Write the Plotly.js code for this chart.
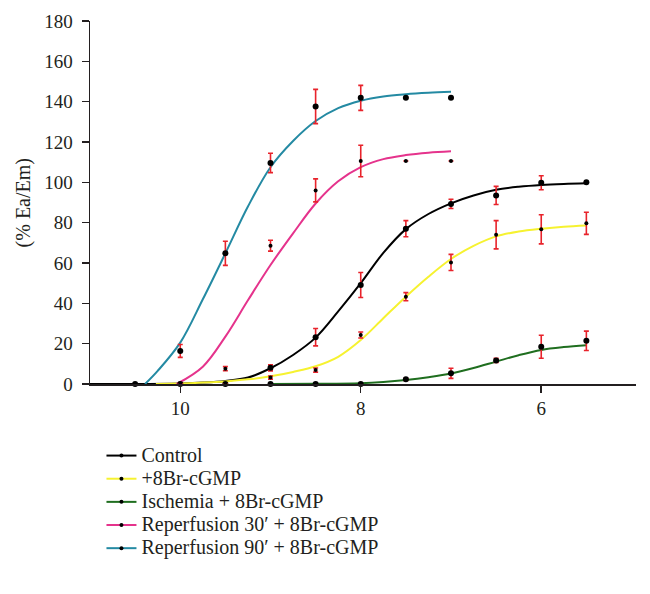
<!DOCTYPE html>
<html>
<head>
<meta charset="utf-8">
<script src="https://cdn.plot.ly/plotly-3.0.1.min.js"></script>
<style>
html,body{margin:0;padding:0;background:#fff;}
#chart{width:650px;height:594px;}
.legendtext{font-size:20px !important;}
#chart .legend .scrollbox{clip-path:none !important;}
</style>
</head>
<body>
<div id="chart"></div>
<script>
// ---- Data ----
var seriesNames = ["Control", "+8Br-cGMP", "Ischemia + 8Br-cGMP", "Reperfusion 30\u2032 + 8Br-cGMP", "Reperfusion 90\u2032 + 8Br-cGMP"];

// Measured points (x = -log concentration)
var controlX = [10, 9.5, 9, 8.5, 8, 7.5, 7, 6.5, 6, 5.5];
var controlY = [0, 0, 8, 23.2, 49.1, 77, 89.3, 93.5, 99.8, 100];
var controlErr = [0, 0, 1.5, 4.3, 6.2, 4, 2.3, 4.5, 3.5, 0];

var cgmpX = [10, 9.5, 9, 8.5, 8, 7.5, 7, 6.5, 6, 5.5];
var cgmpY = [0, 0, 3.2, 6.9, 24.3, 43.3, 60.3, 74, 76.7, 79.7];
var cgmpErr = [0, 0, 0.8, 1, 1.5, 2, 4, 7, 7.2, 5.5];

var ischX = [9, 8.5, 8, 7.5, 7, 6.5, 6, 5.5];
var ischY = [0, 0, 0, 2.3, 5.3, 11.7, 18.5, 21.4];
var ischErr = [0, 0, 0, 0.5, 2.5, 1, 5.7, 4.8];

var rep30X = [10, 9.5, 9, 8.5, 8, 7.5, 7];
var rep30Y = [0, 7.6, 68.6, 96, 110.6, 110.6, 110.6];
var rep30Err = [0, 1, 2.7, 5.7, 7.8, 0, 0];

var rep90X = [10.5, 10, 9.5, 9, 8.5, 8, 7.5, 7];
var rep90Y = [0, 16.4, 64.8, 109.6, 137.6, 141.9, 141.9, 141.9];
var rep90Err = [0, 3.2, 6, 4.8, 8.5, 6.2, 0, 0];

// Fitted curves
var controlCurveX = [11, 10.5, 10, 9.75, 9.5, 9.25, 9, 8.75, 8.5, 8.25, 8, 7.75, 7.5, 7.25, 7, 6.75, 6.5, 6.25, 6, 5.75, 5.5];
var controlCurveY = [0, 0, 0.3, 0.7, 1.5, 3.2, 7.8, 14.4, 23, 36, 50, 65, 76.8, 84.3, 89.6, 93.5, 96.3, 97.8, 98.7, 99.2, 99.5];

var cgmpCurveX = [10.27, 10, 9.75, 9.5, 9.25, 9, 8.75, 8.5, 8.25, 8, 7.75, 7.5, 7.25, 7, 6.75, 6.5, 6.25, 6, 5.75, 5.5];
var cgmpCurveY = [0, 0.3, 0.7, 1.3, 2.3, 3.8, 6, 8.8, 13.5, 21.8, 32.6, 43.3, 53.2, 62, 68.5, 73.2, 75.6, 77, 78, 78.6];

var ischCurveX = [9, 8.5, 8, 7.75, 7.5, 7.25, 7, 6.75, 6.5, 6.25, 6, 5.75, 5.5];
var ischCurveY = [0, 0.1, 0.4, 1.0, 2.0, 3.4, 5.2, 7.9, 11.1, 14.3, 16.9, 18.3, 19.2];

var rep30CurveX = [10.04, 9.75, 9.5, 9.25, 9, 8.75, 8.5, 8.25, 8, 7.75, 7.5, 7.25, 7];
var rep30CurveY = [0, 8.6, 23.5, 41.5, 59, 74.7, 89.5, 100.5, 107.5, 111.5, 113.5, 114.7, 115.4];

var rep90CurveX = [10.39, 10.25, 10, 9.75, 9.5, 9.25, 9, 8.75, 8.5, 8.25, 8, 7.75, 7.5, 7.25, 7];
var rep90CurveY = [0, 6.5, 20.5, 42, 64.8, 88, 107.5, 120.5, 130.4, 136.8, 140.5, 142.6, 143.7, 144.4, 144.9];

var xTickVals = [10, 8, 6];
var xTickText = ["10", "8", "6"];
var yTickVals = [0, 20, 40, 60, 80, 100, 120, 140, 160, 180];

// ---- Styles ----
var colors = ["#000000", "#f6f230", "#1f6e1f", "#e5338c", "#248aa3"];
var markerSizes = [6, 4, 6, 4, 6];
var errColor = "#e8232b";
var FONT = "Liberation Serif, Times New Roman, serif";
var TXT = "#231f20";

var pts = [[controlX, controlY, controlErr], [cgmpX, cgmpY, cgmpErr], [ischX, ischY, ischErr], [rep30X, rep30Y, rep30Err], [rep90X, rep90Y, rep90Err]];
var curves = [[controlCurveX, controlCurveY], [cgmpCurveX, cgmpCurveY], [ischCurveX, ischCurveY], [rep30CurveX, rep30CurveY], [rep90CurveX, rep90CurveY]];

var traces = [];
for (var i = 0; i < 5; i++) {
  traces.push({
    x: curves[i][0], y: curves[i][1], type: "scatter", mode: "lines",
    line: {color: colors[i], width: 2, shape: "spline", smoothing: 1},
    showlegend: false, hoverinfo: "skip", cliponaxis: false
  });
}
for (var j = 0; j < 5; j++) {
  traces.push({
    x: pts[j][0], y: pts[j][1], type: "scatter", mode: "markers",
    marker: {color: "#000000", size: markerSizes[j]},
    error_y: {type: "data", array: pts[j][2], visible: true, color: errColor, thickness: 1.6, width: 2.5},
    showlegend: false, cliponaxis: false
  });
}
for (var k = 0; k < 5; k++) {
  traces.push({
    x: [null], y: [null], type: "scatter", mode: "lines+markers", name: seriesNames[k],
    line: {color: colors[k], width: 2},
    marker: {color: "#000000", size: 4},
    showlegend: true
  });
}

var layout = {
  width: 650, height: 594,
  margin: {l: 90, r: 14, t: 21, b: 210},
  paper_bgcolor: "#ffffff", plot_bgcolor: "#ffffff",
  font: {family: FONT, size: 19, color: TXT},
  showlegend: true,
  legend: {x: 0.021, xanchor: "left", y: -0.1515, yanchor: "top", bgcolor: "rgba(0,0,0,0)",
           font: {family: FONT, size: 15.5, color: TXT}, tracegroupgap: 0},
  xaxis: {
    range: [11, 4.95], tickvals: xTickVals, ticktext: xTickText,
    showgrid: false, zeroline: false, showline: true, linecolor: TXT, linewidth: 1.5,
    ticks: "outside", ticklen: 7, tickwidth: 1.5, tickcolor: TXT,
    tickfont: {family: FONT, size: 19, color: TXT}, fixedrange: true
  },
  yaxis: {
    range: [0, 180], tickvals: yTickVals,
    showgrid: false, zeroline: false, showline: true, linecolor: TXT, linewidth: 1.5,
    ticks: "outside", ticklen: 7, tickwidth: 1.5, tickcolor: TXT, ticklabelstandoff: 5,
    tickfont: {family: FONT, size: 19, color: TXT}, fixedrange: true
  },
  annotations: [{
    text: "(% Ea/Em)", xref: "paper", yref: "paper", x: -0.121, y: 0.5,
    xanchor: "center", yanchor: "middle", textangle: -90, showarrow: false,
    font: {family: FONT, size: 20, color: TXT}
  }]
};

Plotly.newPlot("chart", traces, layout, {displayModeBar: false, staticPlot: true});
</script>
</body>
</html>
